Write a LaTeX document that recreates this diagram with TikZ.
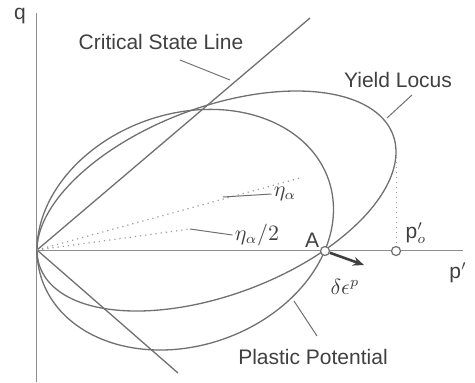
\documentclass[tikz,border=0pt]{standalone}
\usepackage{fontspec}
\setmainfont{Liberation Sans}
\usepackage{amsmath}
\usepackage{xcolor}
\usetikzlibrary{arrows.meta, positioning, calc}

\definecolor{curvegray}{HTML}{707070}
\definecolor{textgray}{HTML}{404040}

\begin{document}
\begin{tikzpicture}[x=0.5pt, y=-0.5pt,
      curve/.style={draw=curvegray, line width=0.65pt},
      axisline/.style={draw=curvegray!80, line width=0.5pt},
      guide/.style={draw=curvegray!70, dotted, line width=0.6pt},
      leader/.style={draw=curvegray, line width=0.5pt},
      lab/.style={text=textgray, font=\fontsize{10.5}{12}\selectfont, inner sep=1pt},
      mlab/.style={text=textgray, font=\fontsize{10.5}{12}\selectfont, inner sep=1pt},
      pt/.style={circle, draw=curvegray, fill=white, line width=0.6pt,
                 inner sep=0pt, minimum size=4.5pt}]
    \useasboundingbox (0,0) rectangle (475,382);
    % axes
    \coordinate (O) at (37,250);
    \coordinate (qtop) at (36,13);
    \coordinate (qbot) at (36,382);
    \coordinate (pend) at (463,250);
    \draw[axisline] (qbot) -- (qtop);
    \draw[axisline] (O) -- (pend);
    \node[lab] (qlab) at (20,16) {q};
    \node[lab] (plab) at (458,273) {p$'$};
    % critical state lines
    \coordinate (cslup) at (310,18);
    \coordinate (csldown) at (178,373);
    \draw[curve] (O) -- (cslup);
    \draw[curve] (O) -- (csldown);
    % yield locus and plastic potential
    \draw[curve] plot[domain=0:360, samples=120, smooth]
      ({37+179.5*(1-cos(\x))}, {250-49*(1-cos(\x))-98.5*sin(\x)});
    \draw[curve] plot[domain=0:360, samples=120, smooth]
      ({37+148.25*(1-cos(\x))}, {250-20.31*(1-cos(\x))-118.6*sin(\x)});
    % stress ratio lines
    \coordinate (etaend) at (300,178);
    \coordinate (halfend) at (190,229);
    \draw[guide] (O) -- (etaend);
    \draw[guide] (O) -- (halfend);
    \node[mlab] (etalab) at (285,194) {$\eta_{\alpha}$};
    \node[mlab] (halflab) at (257,235) {$\eta_{\alpha}/2$};
    \coordinate (etafoot) at (223,197);
    \draw[leader] (etafoot) -- (etalab.west);
    \draw[leader] (halfend) -- (halflab.west);
    % points A and p0'
    \node[pt] (A) at (325,251) {};
    \coordinate (ptop) at (396,152);
    \node[pt] (p0) at (396,251) {};
    \draw[guide, line width=0.5pt] (ptop) -- (p0);
    \node[lab] (Alab) at (312,240) {A};
    \node[mlab] (p0lab) at (416,233) {p$_{o}'$};
    % plastic strain increment
    \coordinate (dep) at (364,265);
    \draw[-{Stealth[length=5.5pt, width=4.5pt]}, draw=textgray, line width=1.3pt] (A) -- (dep);
    \node[mlab] (deplab) at (345,287) {$\delta\epsilon^{p}$};
    % labels with leaders
    \node[lab] (csl) at (161,42) {Critical State Line};
    \coordinate (cslfoot) at (180,60);
    \coordinate (csltip) at (230,80);
    \draw[leader] (cslfoot) -- (csltip);
    \node[lab] (yl) at (398,80) {Yield Locus};
    \coordinate (ylfoot) at (412,95);
    \coordinate (yltip) at (387,118);
    \draw[leader] (ylfoot) -- (yltip);
    \node[lab] (pp) at (313,357) {Plastic Potential};
    \coordinate (ppfoot) at (317,336);
    \coordinate (pptip) at (294,301);
    \draw[leader] (ppfoot) -- (pptip);
  \end{tikzpicture}
\end{document}
